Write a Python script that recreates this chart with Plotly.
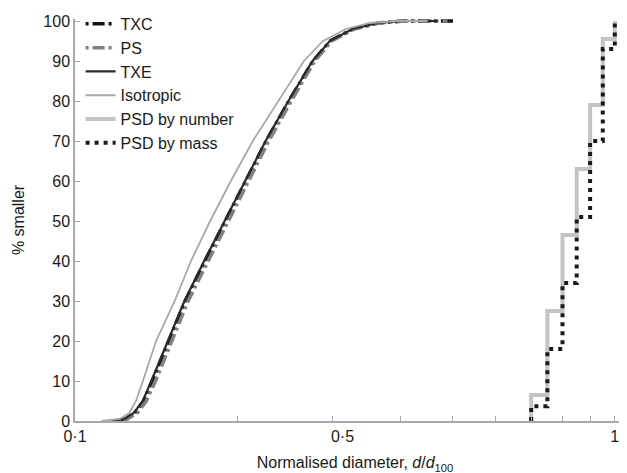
import plotly.graph_objects as go

# cumulative % smaller (shared y for the simulation curves)
pct = [0, 0.5, 2, 5, 10, 20, 30, 40, 50, 60, 70, 80, 90, 95, 98, 99.5, 100, 100]

txc_d = [0.118, 0.124, 0.129, 0.134, 0.139, 0.149, 0.160, 0.174, 0.190, 0.207,
         0.226, 0.249, 0.276, 0.297, 0.327, 0.364, 0.405, 0.508]
ps_d = [0.119, 0.125, 0.1305, 0.1355, 0.141, 0.151, 0.162, 0.1765, 0.1925, 0.2095,
        0.2285, 0.2515, 0.278, 0.299, 0.329, 0.366, 0.407, 0.49]
txe_d = [0.117, 0.1235, 0.1285, 0.1335, 0.1385, 0.1485, 0.1595, 0.1735, 0.1895, 0.2065,
         0.2255, 0.2485, 0.2755, 0.2965, 0.3265, 0.3635, 0.404, 0.47]
iso_d = [0.112, 0.121, 0.126, 0.1297, 0.1336, 0.1413, 0.153, 0.164, 0.178, 0.1944,
         0.2135, 0.2377, 0.2655, 0.288, 0.3177, 0.3518, 0.3963, 0.45]

# PSD steps
psd_bins = [0.70, 0.75, 0.80, 0.85, 0.90, 0.95, 1.00]
psd_number = [6.5, 27.5, 46.5, 63, 79, 95.5, 100]
psd_mass = [3.7, 18, 34.5, 51, 70, 93, 100]

x_tick_vals = [0.1, 0.313, 1.0]
x_tick_text = ["0·1", "0·5", "1"]
x_minor_vals = [0.2, 0.3, 0.4, 0.5, 0.6, 0.7, 0.8, 0.9, 1.0]
y_tick_vals = [0, 10, 20, 30, 40, 50, 60, 70, 80, 90, 100]

FONT = "Liberation Sans, Arial, sans-serif"
AX = "#a8a8a8"

fig = go.Figure()
fig.add_trace(go.Scatter(x=txc_d, y=pct, mode="lines", name="TXC",
                         line=dict(color="#111111", width=3.5, dash="3px,4px,12px,4px")))
fig.add_trace(go.Scatter(x=ps_d, y=pct, mode="lines", name="PS",
                         line=dict(color="#808080", width=3.5, dash="3px,4px,12px,4px")))
fig.add_trace(go.Scatter(x=txe_d, y=pct, mode="lines", name="TXE",
                         line=dict(color="#2a2a2a", width=2.2)))
fig.add_trace(go.Scatter(x=iso_d, y=pct, mode="lines", name="Isotropic",
                         line=dict(color="#a8a8a8", width=1.8)))
fig.add_trace(go.Scatter(x=[psd_bins[0]] + psd_bins, y=[0] + psd_number, mode="lines",
                         name="PSD by number", line_shape="hv",
                         line=dict(color="#c4c4c4", width=4)))
fig.add_trace(go.Scatter(x=[psd_bins[0]] + psd_bins, y=[0] + psd_mass, mode="lines",
                         name="PSD by mass", line_shape="hv",
                         line=dict(color="#1a1a1a", width=4, dash="4px,5px")))

fig.update_layout(
    width=627, height=473,
    margin=dict(l=67, r=0, t=11, b=60, autoexpand=False),
    paper_bgcolor="white", plot_bgcolor="white",
    font=dict(family=FONT, size=16, color="#1a1a1a"),
    showlegend=True,
    legend=dict(x=0.01, y=1.03, xanchor="left", yanchor="top",
                bgcolor="rgba(255,255,255,0)", font=dict(size=16),
                itemwidth=30, tracegroupgap=0),
    xaxis=dict(type="log", range=[-1, 0.0374], showgrid=False, zeroline=False,
               automargin=False,
               showline=True, linecolor=AX, linewidth=1.5,
               tickmode="array", tickvals=x_tick_vals, ticktext=x_tick_text,
               ticks="", tickfont=dict(size=16),
               minor=dict(tickmode="array", tickvals=x_minor_vals, ticks="inside",
                          ticklen=5, tickcolor=AX, tickwidth=1, showgrid=False),
               title=dict(text="Normalised diameter, <i>d</i>/<i>d</i><sub>100</sub>",
                          font=dict(size=16), standoff=13)),
    yaxis=dict(range=[0, 100.5], showgrid=False, zeroline=False,
               automargin=False,
               showline=True, linecolor=AX, linewidth=1.5,
               tickmode="array", tickvals=y_tick_vals,
               ticks="inside", ticklen=5, tickcolor=AX, tickwidth=1,
               tickfont=dict(size=16),
               title=dict(text="% smaller", font=dict(size=16))),
)

fig.write_html("out.html")
